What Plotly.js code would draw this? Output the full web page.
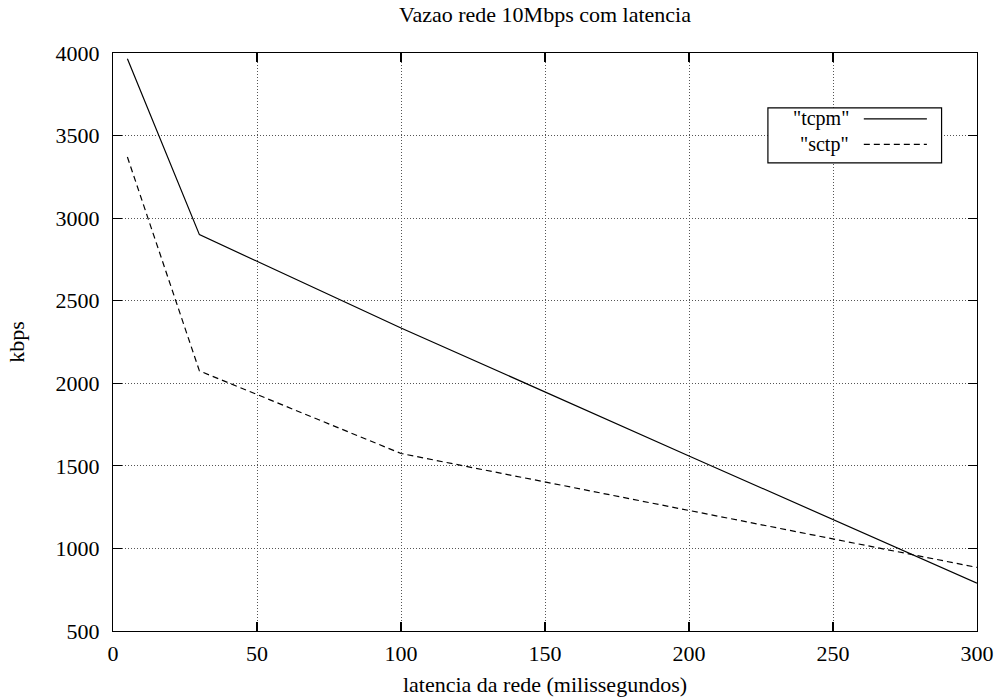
<!DOCTYPE html>
<html>
<head>
<meta charset="utf-8">
<script src="https://cdn.plot.ly/plotly-3.0.1.min.js"></script>
<style>
  html, body { margin: 0; padding: 0; background: #fff; }
  #chart { width: 1001px; height: 700px; }
</style>
</head>
<body>
<div id="chart"></div>
<script>
// Data
const latency = [5, 30, 100, 200, 300];
const tcpm = [3965, 2900, 2335, 1560, 790];
const sctp = [3370, 2075, 1575, 1230, 885];
const seriesNames = ['"tcpm"', '"sctp"'];
const xTicks = [0, 50, 100, 150, 200, 250, 300];
const yTicks = [500, 1000, 1500, 2000, 2500, 3000, 3500, 4000];

const FONT = '"Liberation Serif", "Times New Roman", serif';

const traces = [
  { x: latency, y: tcpm, name: seriesNames[0], type: 'scatter', mode: 'lines',
    line: { color: '#000', width: 1.2 } },
  { x: latency, y: sctp, name: seriesNames[1], type: 'scatter', mode: 'lines',
    line: { color: '#000', width: 1.2, dash: '6px,4px' } }
];

// custom gnuplot-style legend (text left, sample right)
const legY = [0.886, 0.842];
const dashes = ['solid', '6px,4px'];
const shapes = [
  { type: 'rect', xref: 'paper', yref: 'paper', x0: 0.758, x1: 0.959, y0: 0.810, y1: 0.905,
    line: { color: '#000', width: 1.2 }, fillcolor: '#fff', layer: 'above' }
];
const annotations = [];
seriesNames.forEach((n, i) => {
  shapes.push({ type: 'line', xref: 'paper', yref: 'paper', x0: 0.869, x1: 0.942, y0: legY[i], y1: legY[i],
    line: { color: '#000', width: 1.2, dash: dashes[i] }, layer: 'above' });
  annotations.push({ xref: 'paper', yref: 'paper', x: 0.853, y: legY[i], xanchor: 'right', yanchor: 'middle',
    borderpad: 0,
    text: n, showarrow: false, font: { family: FONT, size: 20, color: '#000' } });
});

const axisCommon = {
  showline: true, linecolor: '#000', linewidth: 1.2, mirror: 'ticks',
  ticks: 'inside', ticklen: 9, tickcolor: '#000', tickwidth: 1.2,
  showgrid: true, gridcolor: '#555', griddash: '1px,2px', gridwidth: 1,
  zeroline: false,
  tickfont: { family: FONT, size: 22, color: '#000' }
};

const layout = {
  width: 1001, height: 700,
  margin: { l: 113, r: 24, t: 53, b: 69 },
  paper_bgcolor: '#fff', plot_bgcolor: '#fff',
  showlegend: false,
  title: { text: 'Vazao rede 10Mbps com latencia', font: { family: FONT, size: 22, color: '#000' },
    x: 0.5, xref: 'paper', y: 0.979, yref: 'container', yanchor: 'middle' },
  xaxis: Object.assign({}, axisCommon, {
    range: [0, 300], tickvals: xTicks, ticklabelstandoff: 2,
    title: { text: 'latencia da rede (milissegundos)', font: { family: FONT, size: 22, color: '#000' }, standoff: 12 }
  }),
  yaxis: Object.assign({}, axisCommon, {
    range: [500, 4000], tickvals: yTicks, ticklabelstandoff: 8,
    title: { text: 'kbps', font: { family: FONT, size: 22, color: '#000' }, standoff: 24 }
  }),
  shapes: shapes,
  annotations: annotations
};

Plotly.newPlot('chart', traces, layout, { displayModeBar: false, staticPlot: true });
</script>
</body>
</html>
